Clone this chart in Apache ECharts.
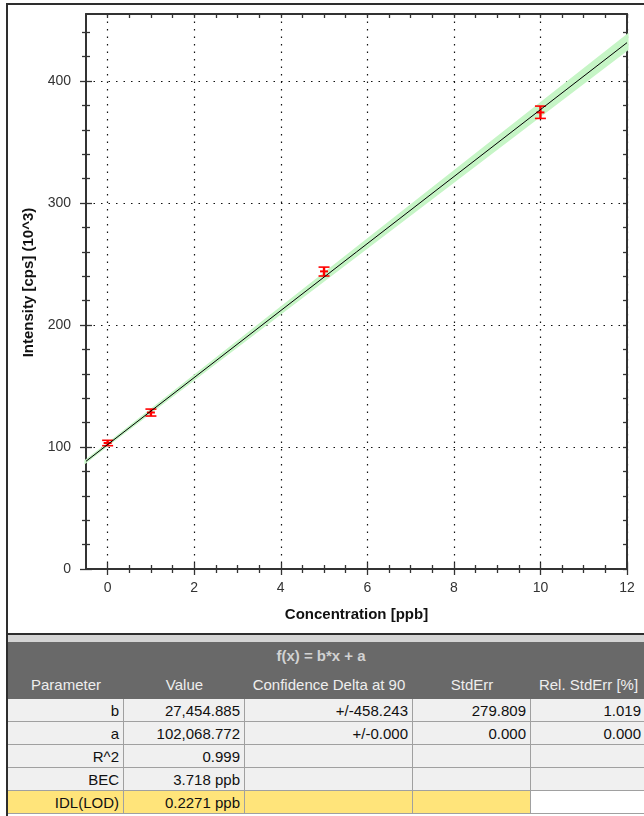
<!DOCTYPE html>
<html>
<head>
<meta charset="utf-8">
<title>Calibration</title>
<script src="https://cdn.jsdelivr.net/npm/echarts@6.0.0/dist/echarts.min.js"></script>
<style>
body { margin: 0; background: #fff; }
#page { position: relative; width: 644px; height: 816px; overflow: hidden; font-family: "Liberation Sans", Arial, sans-serif; }
#frame { position: absolute; left: 6px; top: 3px; width: 700px; height: 628px; border: 2px solid #2e2e2e; }
#leftline { position: absolute; left: 6px; top: 3px; width: 2px; height: 813px; background: #2e2e2e; }
#chart { position: absolute; left: 0; top: 0; width: 644px; height: 634px; }
#strip { position: absolute; left: 8px; top: 635px; width: 640px; height: 7px; background: #d4d4d4; }
.cell { position: absolute; box-sizing: border-box; font-size: 15px; color: #111; white-space: nowrap; overflow: hidden; }
.hd { background: #696969; color: #eeeeee; text-align: center; }
.dat { background: #f0f0f0; text-align: right; padding-right: 4px; border-right: 1px solid #a0a0a0; border-bottom: 1px solid #a0a0a0; }
</style>
</head>
<body>
<div id="page">
  <div id="frame"></div>
  <div id="chart"></div>
  <div id="strip"></div>
  <div id="tbl"></div>
  <div id="leftline"></div>
</div>
<script>
// calibration points (intensity in 10^3 cps)
var concentration = [0, 1, 5, 10];
var intensity = [103.3, 128.3, 244.0, 374.3];
var errLow = [101.1, 125.4, 240.2, 369.4];
var errHigh = [105.5, 131.1, 247.5, 379.5];

// fit line f(x) = b*x + a
var fitX = [-0.5, 12];
var fitY = [88.3, 431.5];

// confidence band
var bandX = [-0.5, 0, 12];
var bandLow = [88.1, 102.0, 426.0];
var bandHigh = [88.5, 102.2, 437.0];

// ticks
var xMajor = [0, 2, 4, 6, 8, 10, 12];
var yMajor = [0, 100, 200, 300, 400];
var xMinor = [];
for (var i = 0; i < 12; i += 2) { xMinor.push(i + 0.5, i + 1, i + 1.5); }
var yMinor = [];
for (var j = 0; j < 440; j += 100) {
    for (var k = 20; k < 100; k += 20) { if (j + k <= 455) yMinor.push(j + k); }
}
var xAll = xMajor.concat(xMinor);
var yAll = yMajor.concat(yMinor);

// table
var fitTitle = 'f(x) = b*x + a';
var tableHeader = ['Parameter', 'Value', 'Confidence Delta at 90', 'StdErr', 'Rel. StdErr [%]'];
var tableRows = [
    ['b', '27,454.885', '+/-458.243', '279.809', '1.019'],
    ['a', '102,068.772', '+/-0.000', '0.000', '0.000'],
    ['R^2', '0.999', '', '', ''],
    ['BEC', '3.718 ppb', '', '', ''],
    ['IDL(LOD)', '0.2271 ppb', '', '', '']
];
var highlightRow = 4;

var xMin = -0.5, xMax = 12, yMin = 0, yMax = 455;
var axisColor = '#333';
var font = '"Liberation Sans", Arial, sans-serif';

function tickAxis(pos, vals, inside, len, isX) {
    return {
        type: 'value', position: pos, gridIndex: 0,
        min: isX ? xMin : yMin, max: isX ? xMax : yMax,
        axisLine: {show: pos == 'top' || pos == 'right', onZero: false, lineStyle: {color: axisColor, width: 2}},
        axisLabel: {show: false},
        splitLine: {show: false},
        axisTick: {show: true, inside: inside, length: len, customValues: vals, lineStyle: {color: axisColor, width: 1.3}}
    };
}

var chart = echarts.init(document.getElementById('chart'));
var option = {
    animation: false,
    grid: {left: 86, top: 14, right: 17, bottom: 65, outerBoundsMode: 'none'},
    xAxis: [
        {
            type: 'value', position: 'bottom', min: xMin, max: xMax,
            name: 'Concentration [ppb]', nameLocation: 'middle', nameGap: 38,
            nameTextStyle: {fontWeight: 'bold', fontSize: 15, color: '#111', fontFamily: font},
            axisLine: {show: true, onZero: false, lineStyle: {color: axisColor, width: 2}},
            axisTick: {show: true, inside: false, length: 6, customValues: xMajor, lineStyle: {color: axisColor, width: 1.3}},
            axisLabel: {show: true, customValues: xMajor, margin: 12, fontSize: 14, color: '#333', fontFamily: font},
            splitLine: {show: true, lineStyle: {color: '#111', width: 1.2, type: [1.5, 6]}}
        },
        tickAxis('bottom', xMajor, true, 6, true),
        tickAxis('bottom', xMinor, false, 4, true),
        tickAxis('bottom', xMinor, true, 4, true),
        tickAxis('top', xAll, true, 4, true)
    ],
    yAxis: [
        {
            type: 'value', position: 'left', min: yMin, max: yMax,
            name: 'Intensity [cps] (10^3)', nameLocation: 'middle', nameGap: 50,
            nameTextStyle: {fontWeight: 'bold', fontSize: 15, color: '#111', fontFamily: font, padding: [0, 0, 0, 18]},
            axisLine: {show: true, onZero: false, lineStyle: {color: axisColor, width: 2}},
            axisTick: {show: true, inside: false, length: 6, customValues: yMajor, lineStyle: {color: axisColor, width: 1.3}},
            axisLabel: {show: true, customValues: yMajor, margin: 15, fontSize: 14, color: '#333', fontFamily: font},
            splitLine: {show: true, lineStyle: {color: '#111', width: 1.2, type: [1.5, 6]}}
        },
        tickAxis('left', yMajor, true, 6, false),
        tickAxis('left', yMinor, false, 4, false),
        tickAxis('left', yMinor, true, 4, false),
        tickAxis('right', yAll, true, 4, false)
    ],
    series: [
        {
            name: 'band', type: 'custom', xAxisIndex: 0, yAxisIndex: 0, silent: true,
            data: [[bandX[0], bandLow[0]]],
            renderItem: function (params, api) {
                var pts = [];
                for (var i = 0; i < bandX.length; i++) pts.push(api.coord([bandX[i], bandHigh[i]]));
                for (var i = bandX.length - 1; i >= 0; i--) pts.push(api.coord([bandX[i], bandLow[i]]));
                return {type: 'polygon', shape: {points: pts}, style: {fill: '#c6f5c6', stroke: '#c6f5c6', lineWidth: 3}};
            }
        },
        {
            name: 'fit', type: 'line', xAxisIndex: 0, yAxisIndex: 0, symbol: 'none',
            data: fitX.map(function (x, i) { return [x, fitY[i]]; }),
            lineStyle: {color: '#000', width: 1}
        },
        {
            name: 'points', type: 'custom', xAxisIndex: 0, yAxisIndex: 0,
            data: concentration.map(function (x, i) { return [x, intensity[i], errLow[i], errHigh[i]]; }),
            renderItem: function (params, api) {
                var c = api.coord([api.value(0), api.value(1)]);
                var lo = api.coord([api.value(0), api.value(2)]);
                var hi = api.coord([api.value(0), api.value(3)]);
                var red = {stroke: '#ff0000', lineWidth: 1.6};
                return {
                    type: 'group',
                    children: [
                        {type: 'line', shape: {x1: lo[0], y1: lo[1], x2: hi[0], y2: hi[1]}, style: {stroke: '#ff0000', lineWidth: 2.4}},
                        {type: 'line', shape: {x1: lo[0] - 5.5, y1: lo[1], x2: lo[0] + 5.5, y2: lo[1]}, style: red},
                        {type: 'line', shape: {x1: hi[0] - 5.5, y1: hi[1], x2: hi[0] + 5.5, y2: hi[1]}, style: red},
                        {type: 'line', shape: {x1: c[0] - 4, y1: c[1], x2: c[0] + 4, y2: c[1]}, style: {stroke: '#ff0000', lineWidth: 2}}
                    ]
                };
            }
        }
    ]
};
chart.setOption(option);

// parameter table under the chart
var colEdges = [8, 124, 245, 413, 531, 646];
var tbl = document.getElementById('tbl');
function addCell(cls, left, top, w, h, text, extra) {
    var d = document.createElement('div');
    d.className = 'cell ' + cls;
    d.style.left = left + 'px';
    d.style.top = top + 'px';
    d.style.width = w + 'px';
    d.style.height = h + 'px';
    d.style.lineHeight = h + 'px';
    d.textContent = text;
    if (extra) { for (var p in extra) d.style[p] = extra[p]; }
    tbl.appendChild(d);
}
addCell('hd', 8, 642, 638, 28, fitTitle, {fontWeight: 'bold', color: '#d2d2d2', paddingRight: '12px', lineHeight: '28px'});
for (var c = 0; c < tableHeader.length; c++) {
    addCell('hd', colEdges[c], 670, colEdges[c + 1] - colEdges[c], 29, tableHeader[c]);
}
for (var r = 0; r < tableRows.length; r++) {
    for (var c = 0; c < tableRows[r].length; c++) {
        var bg = '#f0f0f0';
        if (r == highlightRow) bg = c < 4 ? '#ffe47a' : '#ffffff';
        addCell('dat', colEdges[c], 699 + r * 23, colEdges[c + 1] - colEdges[c], 23, tableRows[r][c], {background: bg});
    }
}
</script>
</body>
</html>
